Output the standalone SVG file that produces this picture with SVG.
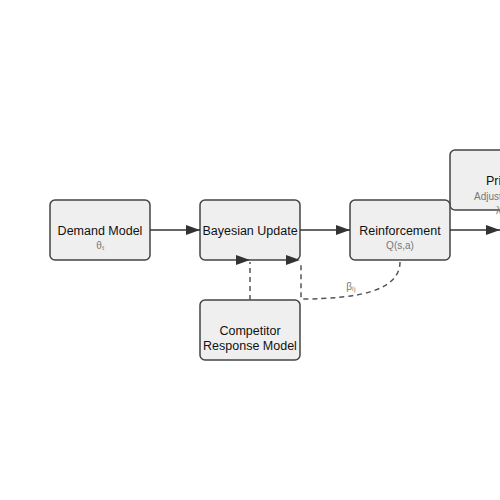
<svg xmlns="http://www.w3.org/2000/svg" width="500" height="500" viewBox="0 0 500 500">
<style>
.box{fill:#efefef;stroke:#444;stroke-width:1.5}
.t{font-family:"Liberation Sans",Arial,sans-serif;font-size:12.5px;fill:#111;text-anchor:middle}
.s{font-family:"Liberation Sans",Arial,sans-serif;font-size:10px;fill:#777;text-anchor:middle}
.e{fill:none;stroke:#333;stroke-width:1.5}
.d{fill:none;stroke:#555;stroke-width:1.5;stroke-dasharray:5,4}
.ah{fill:#333}
</style>
<defs>
<marker id="arr" viewBox="0 0 14 10" refX="14" refY="5" markerWidth="14" markerHeight="10" markerUnits="userSpaceOnUse" orient="auto">
<path d="M0,0 L14,5 L0,10 z" class="ah"/>
</marker>
</defs>
<rect width="500" height="500" fill="#fff"/>
<g id="pricing">
<rect class="box" x="450" y="150" width="110" height="60" rx="5"/>
<text class="t" x="486" y="185" style="text-anchor:start">Pricing</text>
<text class="s" x="474" y="200" style="text-anchor:start">Adjustment</text>
<text class="s" x="496" y="214" style="text-anchor:start">λ</text>
</g>
<g id="demand">
<rect class="box" x="50" y="200" width="100" height="60" rx="5"/>
<text class="t" x="100" y="235">Demand Model</text>
<text class="s" x="100" y="249">θₜ</text>
</g>
<g id="bayes">
<rect class="box" x="200" y="200" width="100" height="60" rx="5"/>
<text class="t" x="250" y="235">Bayesian Update</text>
</g>
<g id="reinforcement">
<rect class="box" x="350" y="200" width="100" height="60" rx="5"/>
<text class="t" x="400" y="235">Reinforcement</text>
<text class="s" x="400" y="249">Q(s,a)</text>
</g>
<g id="competitor">
<rect class="box" x="200" y="300" width="100" height="60" rx="5"/>
<text class="t" x="250" y="335">Competitor</text>
<text class="t" x="250" y="350">Response Model</text>
</g>
<g id="connectors">
<path class="e" d="M150,230 L200,230" marker-end="url(#arr)"/>
<path class="e" d="M300,230 L350,230" marker-end="url(#arr)"/>
<path class="e" d="M450,230 L500,230" marker-end="url(#arr)"/>
<path class="d" d="M250,300 L250,262"/>
<path class="d" d="M400,262 C400,290 360,299 301,299 L301,262"/>
<path class="ah" d="M236,255 L250,260 L236,265 z"/>
<path class="ah" d="M286,255 L300,260 L286,265 z"/>
<text class="s" x="351" y="290">βᵢⱼ</text>
</g>
</svg>
